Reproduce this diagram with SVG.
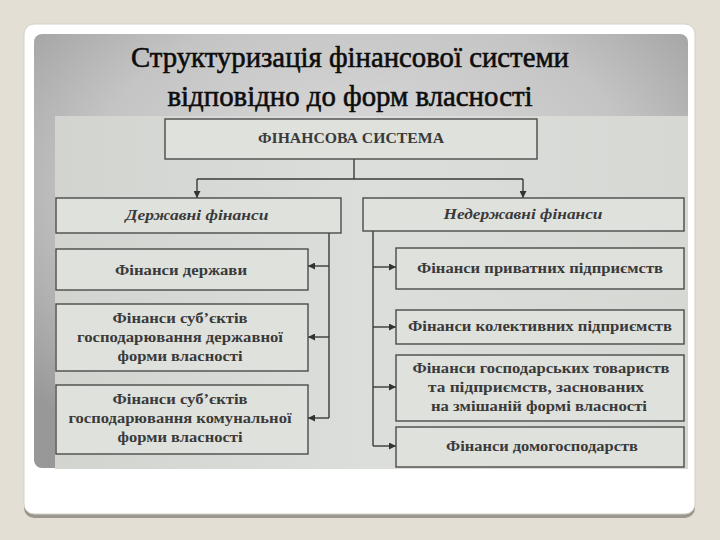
<svg xmlns="http://www.w3.org/2000/svg" width="720" height="540" viewBox="0 0 720 540">
<defs>
<radialGradient id="hdr" cx="0.5" cy="0.35" r="0.7">
<stop offset="0" stop-color="#dedede"/>
<stop offset="0.6" stop-color="#c4c4c4"/>
<stop offset="1" stop-color="#989898"/>
</radialGradient>
<linearGradient id="scan" x1="0" y1="0" x2="1" y2="0">
<stop offset="0" stop-color="#d2d4d0"/>
<stop offset="0.5" stop-color="#dcdedb"/>
<stop offset="1" stop-color="#d6d8d4"/>
</linearGradient>
<marker id="ah" viewBox="0 0 10 10" refX="10" refY="5" markerWidth="7" markerHeight="7" markerUnits="userSpaceOnUse" orient="auto">
<path d="M0,0 L10,5 L0,10 z" fill="#333"/>
</marker>
<style>
.box{fill:#dfe1dd;stroke:#4a4a4a;stroke-width:1.4}
.t{font-family:"Liberation Serif","DejaVu Serif",serif;font-weight:bold;font-size:14px;fill:#3a3a3a;text-anchor:middle}
.it{font-style:italic}
.title{font-family:"Liberation Serif","DejaVu Serif",serif;font-size:30px;fill:#0d0d0d;stroke:#0d0d0d;stroke-width:0.6;text-anchor:middle}
.c{fill:none;stroke:#3a3a3a;stroke-width:1.4}
</style>
</defs>
<rect width="720" height="540" fill="#e4dfd4"/>
<rect x="24" y="28" width="671" height="490" rx="10" fill="#9b968f"/>
<rect x="24" y="24" width="671" height="490" rx="10" fill="#ffffff" stroke="#d6d1c8" stroke-width="1"/>
<rect x="34" y="34" width="654" height="434" rx="8" fill="url(#hdr)"/>
<rect x="55" y="116" width="633" height="353" fill="url(#scan)"/>
<text class="title" x="350" y="67" textLength="438" lengthAdjust="spacingAndGlyphs">Структуризація фінансової системи</text>
<text class="title" x="350" y="106" textLength="365" lengthAdjust="spacingAndGlyphs">відповідно до форм власності</text>

<g id="connectors">
<path class="c" d="M354,159 V179"/>
<path class="c" d="M197,179 H523"/>
<path class="c" d="M197,179 V198" marker-end="url(#ah)"/>
<path class="c" d="M523,179 V198" marker-end="url(#ah)"/>
<path class="c" d="M329,233 V418"/>
<path class="c" d="M329,266 H308" marker-end="url(#ah)"/>
<path class="c" d="M329,337 H308" marker-end="url(#ah)"/>
<path class="c" d="M329,418 H308" marker-end="url(#ah)"/>
<path class="c" d="M373,231 V446"/>
<path class="c" d="M373,267 H396" marker-end="url(#ah)"/>
<path class="c" d="M373,327 H396" marker-end="url(#ah)"/>
<path class="c" d="M373,387 H396" marker-end="url(#ah)"/>
<path class="c" d="M373,446 H396" marker-end="url(#ah)"/>
</g>

<g id="fin-system">
<rect class="box" x="165" y="119" width="372" height="40"/>
<text class="t" x="351" y="143" textLength="186" lengthAdjust="spacingAndGlyphs">ФІНАНСОВА СИСТЕМА</text>
</g>
<g id="state-fin">
<rect class="box" x="56" y="198" width="285" height="35"/>
<text class="t it" x="197" y="220" textLength="143" lengthAdjust="spacingAndGlyphs">Державні фінанси</text>
</g>
<g id="nonstate-fin">
<rect class="box" x="363" y="198" width="321" height="33"/>
<text class="t it" x="523" y="219" textLength="159" lengthAdjust="spacingAndGlyphs">Недержавні фінанси</text>
</g>
<g id="state">
<rect class="box" x="56" y="249" width="252" height="41"/>
<text class="t" x="181" y="275" textLength="132" lengthAdjust="spacingAndGlyphs">Фінанси держави</text>
</g>
<g id="state-entities">
<rect class="box" x="56" y="304" width="252" height="67"/>
<text class="t" x="180" y="323" textLength="135" lengthAdjust="spacingAndGlyphs">Фінанси суб’єктів</text>
<text class="t" x="180" y="342" textLength="206" lengthAdjust="spacingAndGlyphs">господарювання державної</text>
<text class="t" x="180" y="361" textLength="125" lengthAdjust="spacingAndGlyphs">форми власності</text>
</g>
<g id="communal-entities">
<rect class="box" x="56" y="385" width="252" height="69"/>
<text class="t" x="180" y="404" textLength="135" lengthAdjust="spacingAndGlyphs">Фінанси суб’єктів</text>
<text class="t" x="180" y="423" textLength="223" lengthAdjust="spacingAndGlyphs">господарювання комунальної</text>
<text class="t" x="180" y="442" textLength="125" lengthAdjust="spacingAndGlyphs">форми власності</text>
</g>
<g id="private">
<rect class="box" x="396" y="248" width="288" height="41"/>
<text class="t" x="540" y="273" textLength="246" lengthAdjust="spacingAndGlyphs">Фінанси приватних підприємств</text>
</g>
<g id="collective">
<rect class="box" x="396" y="310" width="288" height="34"/>
<text class="t" x="540" y="331" textLength="264" lengthAdjust="spacingAndGlyphs">Фінанси колективних підприємств</text>
</g>
<g id="mixed">
<rect class="box" x="396" y="355" width="288" height="66"/>
<text class="t" x="541" y="373" textLength="257" lengthAdjust="spacingAndGlyphs">Фінанси господарських товариств</text>
<text class="t" x="536" y="392" textLength="216" lengthAdjust="spacingAndGlyphs">та підприємств, заснованих</text>
<text class="t" x="539" y="411" textLength="216" lengthAdjust="spacingAndGlyphs">на змішаній формі власності</text>
</g>
<g id="households">
<rect class="box" x="396" y="427" width="288" height="40"/>
<text class="t" x="542" y="451" textLength="192" lengthAdjust="spacingAndGlyphs">Фінанси домогосподарств</text>
</g>
</svg>
